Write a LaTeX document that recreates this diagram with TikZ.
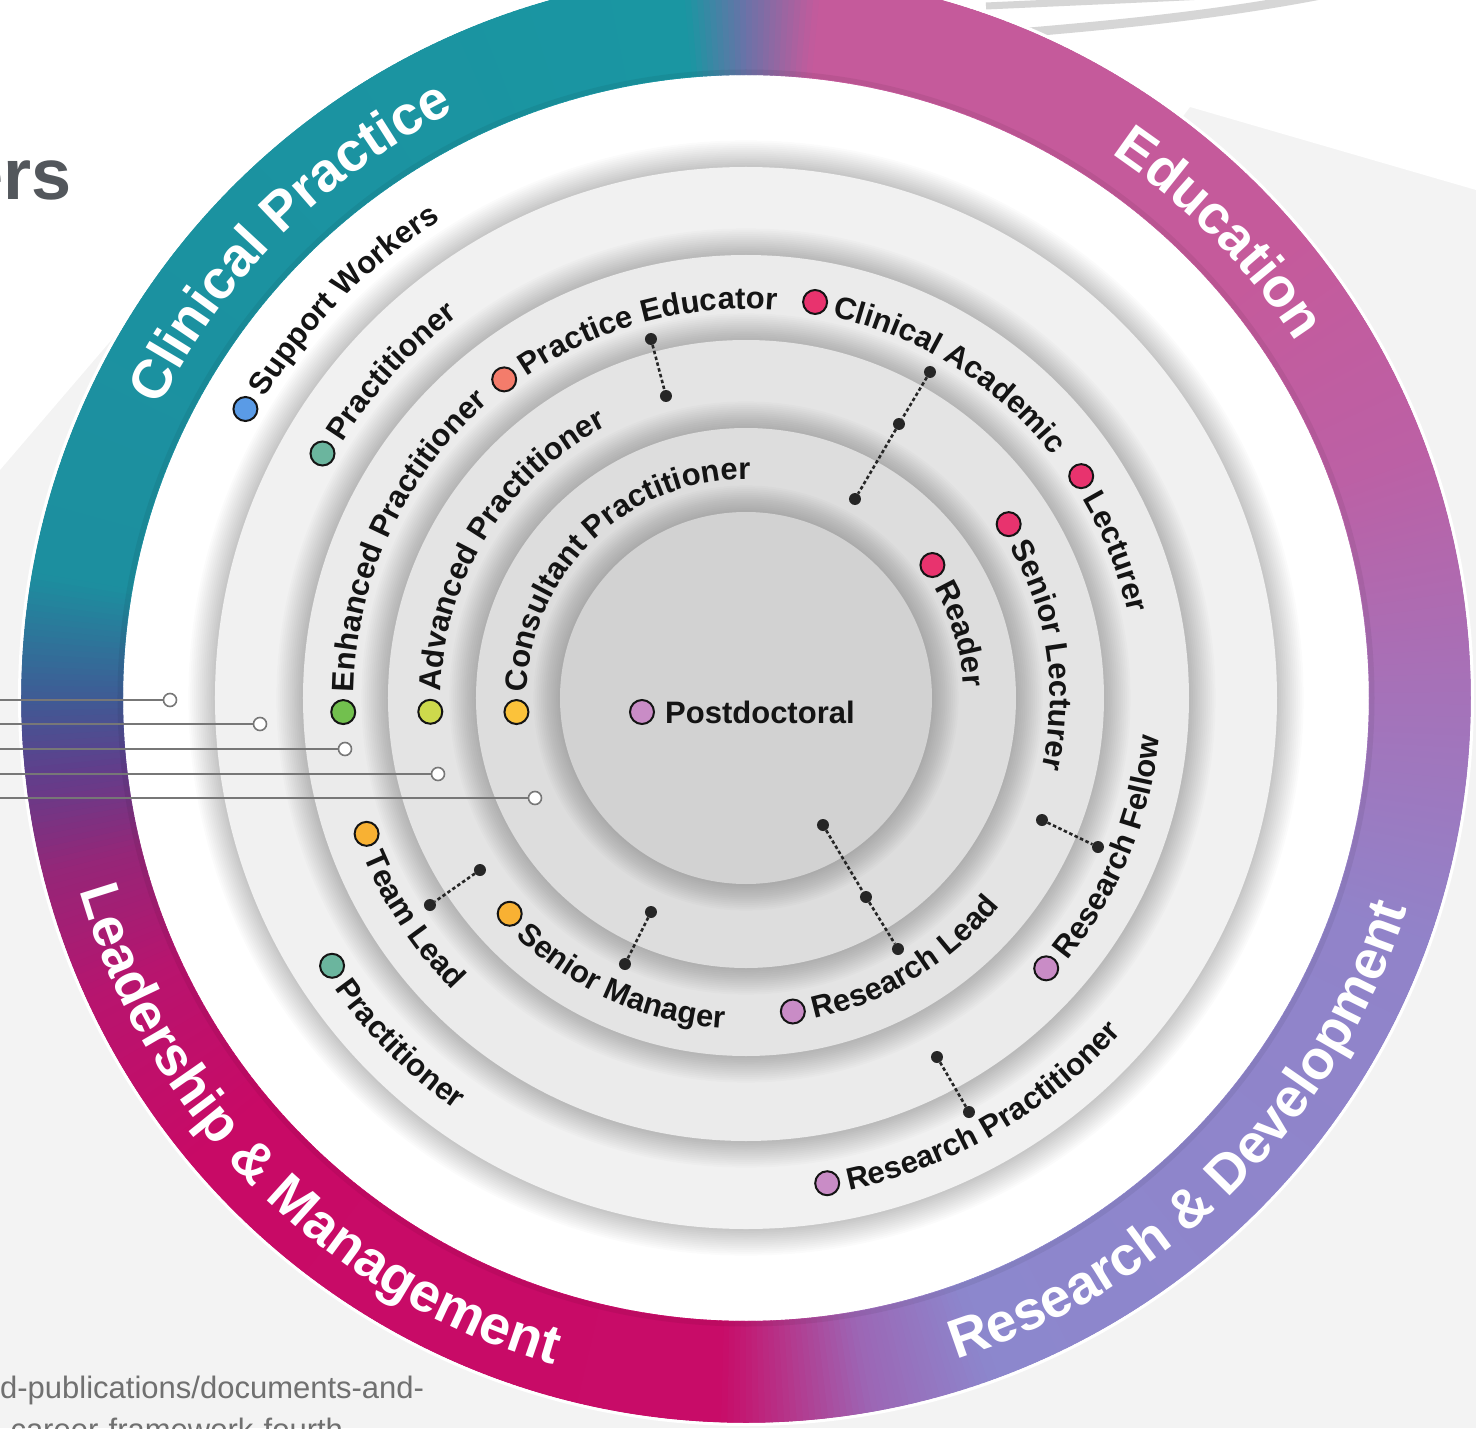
\documentclass[tikz,border=0pt]{standalone}
\usepackage{fontspec}
\setmainfont{Liberation Sans}
\usetikzlibrary{decorations.text}

\definecolor{bggray}{HTML}{F3F3F3}
\definecolor{swoosh}{HTML}{D6D6D6}
\definecolor{rA}{HTML}{8C87CD}
\definecolor{rB}{HTML}{9183C9}
\definecolor{rC}{HTML}{A572B9}
\definecolor{rD}{HTML}{BC60A5}
\definecolor{rE}{HTML}{C55A9B}
\definecolor{rF}{HTML}{6A72A8}
\definecolor{rG}{HTML}{1A96A2}
\definecolor{rH}{HTML}{1C8F9F}
\definecolor{rI}{HTML}{3F5B95}
\definecolor{rJ}{HTML}{5F3F8C}
\definecolor{rK}{HTML}{952678}
\definecolor{rL}{HTML}{B8146E}
\definecolor{rM}{HTML}{C80A66}
\definecolor{rN}{HTML}{C80C68}
\definecolor{rO}{HTML}{B33A8E}
\definecolor{rP}{HTML}{9C66B5}
\definecolor{dk1}{HTML}{F1F1F1}
\definecolor{dk2}{HTML}{EBEBEB}
\definecolor{dk3}{HTML}{E4E4E4}
\definecolor{dk4}{HTML}{DDDDDD}
\definecolor{dk5}{HTML}{D2D2D2}
\definecolor{cblue}{HTML}{5A9BE6}
\definecolor{cteal}{HTML}{6BB59E}
\definecolor{csalmon}{HTML}{F47C6B}
\definecolor{cgreen}{HTML}{72C04E}
\definecolor{cyg}{HTML}{CDD94C}
\definecolor{cyellow}{HTML}{FBC23A}
\definecolor{cpink}{HTML}{E8336E}
\definecolor{cmauve}{HTML}{C98CC6}
\definecolor{corange}{HTML}{F8B133}
\definecolor{labc}{HTML}{141414}
\definecolor{linec}{HTML}{777777}
\definecolor{ersc}{HTML}{53575C}
\definecolor{urlc}{HTML}{707070}

\newcommand{\lblfont}{\fontsize{31}{37}\selectfont\bfseries}
\newcommand{\ringfont}{\fontsize{55}{66}\selectfont\bfseries}

\tikzset{
  dotm/.style={circle, draw=labc, line width=2pt, minimum size=24pt, inner sep=0pt},
  cdot/.style={circle, fill=black!85, minimum size=12pt, inner sep=0pt},
  conn/.style={draw=black!85, line width=2.6pt, dash pattern=on 3.5pt off 2.5pt},
  hend/.style={circle, draw=linec, fill=white, line width=1.6pt, minimum size=13pt, inner sep=0pt},
  hline/.style={draw=linec, line width=2pt},
}

\newcommand{\ringpart}[4]{%
  \pgfmathtruncatemacro\rpn{max(1,round(2*abs((#2)-(#1))))}%
  \foreach \i in {1,...,\rpn}{%
    \pgfmathsetmacro\rpa{(#1)+((#2)-(#1))*(\i-1)/\rpn}%
    \pgfmathsetmacro\rpb{(#1)+((#2)-(#1))*\i/\rpn+0.4}%
    \pgfmathtruncatemacro\rpp{100*(\i-0.5)/\rpn}%
    \draw[line width=102pt, color=#4!\rpp!#3] (\rpa:674) arc[start angle=\rpa, end angle=\rpb, radius=674];
  }}

\newcommand{\shdisk}[2]{%
  \foreach \k in {1,...,14}{\fill[black, opacity=0.015] (0,0) circle ({#1+1.9*\k});}
  \fill[#2] (0,0) circle (#1);}

% clockwise label (tops outward): name, colour, radius, angle, text
\newcommand{\labcw}[5]{%
  \node[dotm, fill=#2] (#1) at (#4:#3) {};
  \pgfmathsetmacro\labR{#3-11}%
  \pgfmathsetmacro\labS{#4-20/#3*57.2958}%
  \pgfmathsetmacro\labE{\labS-420/\labR*57.2958}%
  \path[decorate, decoration={text along path, text={|\lblfont|#5}, text color=labc}]
    (\labS:\labR) arc[start angle=\labS, end angle=\labE, radius=\labR];}

% counter-clockwise label (tops inward)
\newcommand{\labccw}[5]{%
  \node[dotm, fill=#2] (#1) at (#4:#3) {};
  \pgfmathsetmacro\labR{#3+11}%
  \pgfmathsetmacro\labS{#4+20/#3*57.2958}%
  \pgfmathsetmacro\labE{\labS+420/\labR*57.2958}%
  \path[decorate, decoration={text along path, text={|\lblfont|#5}, text color=labc}]
    (\labS:\labR) arc[start angle=\labS, end angle=\labE, radius=\labR];}

\begin{document}
\begin{tikzpicture}[x=1pt, y=1pt]
\useasboundingbox (-746,-730) rectangle (730,698);

\fill[bggray] (-746,-730) rectangle (730,698);
\fill[white] (-746,698) -- (730,698) -- (730,508) -- (444,591) -- (0,0) -- (-626,368) -- (-746,228) -- cycle;

\draw[swoosh, line width=7pt] (240,692) .. controls (350,697) and (450,701) .. (570,708);
\draw[swoosh, line width=9pt] (260,664) .. controls (380,674) and (480,684) .. (590,706);

\fill[white] (0,0) circle (624);

\ringpart{-70}{-20}{rA}{rB}
\ringpart{-20}{0}{rB}{rC}
\ringpart{0}{20}{rC}{rD}
\ringpart{20}{40}{rD}{rE}
\ringpart{40}{84}{rE}{rE}
\ringpart{84}{90}{rE}{rF}
\ringpart{90}{95}{rF}{rG}
\ringpart{95}{170}{rG}{rH}
\ringpart{170}{180}{rH}{rI}
\ringpart{180}{186}{rI}{rJ}
\ringpart{186}{194}{rJ}{rK}
\ringpart{194}{205}{rK}{rL}
\ringpart{205}{220}{rL}{rM}
\ringpart{220}{268}{rM}{rN}
\ringpart{268}{274}{rN}{rO}
\ringpart{274}{280}{rO}{rP}
\ringpart{280}{290}{rP}{rA}
\draw[white, line width=3pt] (0,0) circle (726.5);
\draw[black, opacity=0.06, line width=5pt] (0,0) circle (626);

\shdisk{531}{dk1}
\shdisk{443}{dk2}
\shdisk{358}{dk3}
\shdisk{270}{dk4}
\shdisk{186}{dk5}

\coordinate (h1a) at (-746,-2);
\coordinate (h2a) at (-746,-26);
\coordinate (h3a) at (-746,-51);
\coordinate (h4a) at (-746,-76);
\coordinate (h5a) at (-746,-100);
\node[hend] (h1) at (-576,-2) {};
\node[hend] (h2) at (-486,-26) {};
\node[hend] (h3) at (-401,-51) {};
\node[hend] (h4) at (-308,-76) {};
\node[hend] (h5) at (-211,-100) {};
\draw[hline] (h1a) -- (h1);
\draw[hline] (h2a) -- (h2);
\draw[hline] (h3a) -- (h3);
\draw[hline] (h4a) -- (h4);
\draw[hline] (h5a) -- (h5);

\node[cdot] (pe1) at (-95,359) {};
\node[cdot] (pe2) at (-80,302) {};
\draw[conn] (pe1) -- (pe2);
\node[cdot] (ca1) at (184,326) {};
\node[cdot] (ca2) at (153,274) {};
\node[cdot] (ca3) at (109,199) {};
\draw[conn] (ca1) -- (ca2) -- (ca3);
\node[cdot] (rl1) at (77,-127) {};
\node[cdot] (rl2) at (120,-199) {};
\node[cdot] (rl3) at (152,-251) {};
\draw[conn] (rl1) -- (rl2) -- (rl3);
\node[cdot] (rf1) at (296,-122) {};
\node[cdot] (rf2) at (352,-149) {};
\draw[conn] (rf1) -- (rf2);
\node[cdot] (rp1) at (191,-359) {};
\node[cdot] (rp2) at (223,-414) {};
\draw[conn] (rp1) -- (rp2);
\node[cdot] (tl1) at (-266,-172) {};
\node[cdot] (tl2) at (-316,-207) {};
\draw[conn] (tl1) -- (tl2);
\node[cdot] (sm1) at (-95,-214) {};
\node[cdot] (sm2) at (-121,-266) {};
\draw[conn] (sm1) -- (sm2);

\labcw{sw}{cblue}{578}{150}{Support Workers}
\labcw{pr}{cteal}{489}{150}{Practitioner}
\labcw{ep}{cgreen}{403}{182}{Enhanced Practitioner}
\labcw{ap}{cyg}{316}{182.5}{Advanced Practitioner}
\labcw{cp}{cyellow}{230}{183.5}{Consultant Practitioner}
\labcw{pe}{csalmon}{400}{127.2}{Practice Educator}
\labcw{ca}{cpink}{402}{80.1}{Clinical Academic}
\labcw{le}{cpink}{402}{33.5}{Lecturer}
\labcw{sl}{cpink}{315}{33.5}{Senior Lecturer}
\labcw{rd}{cpink}{229}{35.5}{Reader}
\labccw{rf}{cmauve}{404}{-42}{Research Fellow}
\labccw{rl}{cmauve}{317}{-81.5}{Research Lead}
\labccw{rp}{cmauve}{492}{-80.5}{Research Practitioner}
\labccw{sm}{corange}{320}{222.4}{Senior Manager}
\labccw{tl}{corange}{403}{199.7}{Team Lead}
\labccw{lp}{cteal}{493}{212.9}{Practitioner}

\node[dotm, fill=cmauve] (pd) at (-104,-14) {};
\node[anchor=west, inner sep=0pt, font=\lblfont, text=labc] (pdt) at (-81,-14) {Postdoctoral};

\path[decorate, decoration={text along path, text={|\ringfont|Clinical Practice}, text color=white, text align=center}]
  (175:655) arc[start angle=175, end angle=95, radius=655];
\path[decorate, decoration={text along path, text={|\ringfont|Education}, text color=white, text align=center}]
  (74.5:655) arc[start angle=74.5, end angle=14.5, radius=655];
\path[decorate, decoration={text along path, text={|\ringfont|Leadership {\&} Management}, text color=white, text align=center}]
  (190:694) arc[start angle=190, end angle=260, radius=694];
\path[decorate, decoration={text along path, text={|\ringfont|Research {\&} Development}, text color=white, text align=center}]
  (-80:694) arc[start angle=-80, end angle=-10, radius=694];

\node[anchor=base east, inner sep=0pt, font=\fontsize{72}{80}\selectfont\bfseries, text=ersc] (ttl) at (-674,498) {ers};
\node[anchor=base west, inner sep=0pt, font=\fontsize{31}{40}\selectfont, text=urlc] (url1) at (-746,-700) {d-publications/documents-and-};
\node[anchor=base west, inner sep=0pt, font=\fontsize{31}{40}\selectfont, text=urlc] (url2) at (-746,-742) {-career-framework-fourth};
\end{tikzpicture}
\end{document}
